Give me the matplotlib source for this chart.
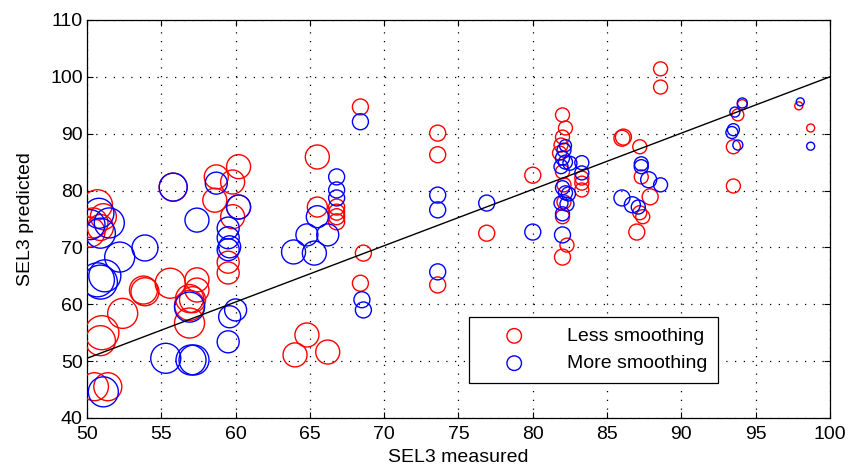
import matplotlib
matplotlib.use("Agg")
import matplotlib.pyplot as plt
import numpy as np

plt.rcParams['font.family'] = ['Liberation Sans', 'DejaVu Sans']

# Less smoothing (red): measured, predicted, marker radius (px)
less_x = [50.7, 51.1, 50.4, 50.2, 50.9, 51.0, 50.9, 52.4, 53.9, 50.5, 51.4,
          55.8, 58.7, 60.2, 58.6, 59.8, 60.2, 59.8, 59.5, 59.5,
          53.8, 55.6, 57.4, 57.4, 57.1, 56.9, 56.9, 56.9,
          68.4, 65.5, 66.8, 66.8, 66.8, 66.8, 65.5, 68.6, 68.4, 64.8, 64.0, 66.2,
          73.6, 73.6, 76.9, 80.0, 73.6,
          82.0, 82.2, 82.0, 81.9, 81.8, 82.0, 83.3, 83.3, 83.3, 82.1, 82.1, 82.0,
          82.3, 82.0, 86.0,
          88.6, 88.6, 87.2, 87.3, 87.9, 87.2, 87.4, 87.0, 86.1,
          94.1, 93.8, 93.5, 93.5, 97.9, 98.7]
less_y = [77.5, 75.4, 74.3, 72.7, 73.5, 55.0, 53.6, 58.4, 62.2, 45.5, 45.5,
          80.6, 82.4, 84.2, 78.3, 81.5, 77.1, 75.4, 67.4, 65.5,
          62.5, 63.7, 64.3, 62.5, 60.8, 59.8, 61.0, 56.7,
          94.7, 85.9, 77.1, 76.2, 75.4, 74.5, 77.1, 69.0, 63.7, 54.6, 51.1, 51.6,
          90.1, 86.3, 72.5, 82.7, 63.4,
          93.3, 91.0, 89.4, 88.0, 86.6, 83.3, 82.2, 81.3, 80.1, 81.0, 78.0, 75.4,
          70.4, 68.3, 89.2,
          101.4, 98.2, 87.7, 82.4, 78.9, 76.1, 75.4, 72.7, 89.4,
          95.1, 93.3, 87.7, 80.8, 94.9, 91.0]
less_r = [15, 13, 15, 15, 13, 17, 15, 15, 14, 14, 14,
          14, 12, 12, 12, 12, 12, 12, 11, 11,
          14, 15, 12, 12, 13, 15, 14, 15,
          8, 12, 8, 8, 8, 8, 10, 8, 8, 12, 12, 12,
          8, 8, 8, 8, 8,
          7, 7, 7, 7, 7, 7, 7, 7, 7, 7, 7, 7,
          7, 8, 8,
          7, 7, 7, 7, 8, 7, 7, 8, 8,
          5, 6, 7, 7, 4, 4]

# More smoothing (blue)
more_x = [50.8, 51.5, 50.2, 50.9, 52.2, 53.9, 50.7, 50.9, 51.2, 51.1,
          55.8, 58.7, 60.2, 57.4, 59.5, 59.5, 59.6, 59.5, 56.9, 60.0, 59.6, 59.5,
          55.3, 57.0, 57.2,
          68.4, 66.8, 66.8, 66.8, 65.5, 64.8, 66.2, 63.9, 65.3, 68.5, 68.6,
          73.6, 73.6, 76.9, 80.0, 73.6,
          82.2, 82.1, 82.0, 82.2, 81.9, 82.5, 83.3, 83.3, 82.0, 82.2, 82.4, 81.9,
          82.3, 82.0, 82.0, 86.0,
          87.3, 87.3, 87.8, 88.6, 86.7, 87.1,
          94.1, 93.6, 93.5, 93.4, 93.8, 98.0, 98.7]
more_y = [76.0, 74.3, 74.0, 72.5, 68.3, 69.9, 64.3, 63.9, 65.0, 44.6,
          80.6, 81.3, 77.1, 74.8, 73.4, 71.7, 70.1, 69.6, 59.5, 59.0, 57.8, 53.4,
          50.5, 50.2, 50.2,
          92.1, 82.4, 80.1, 78.7, 75.4, 72.2, 72.2, 69.2, 69.0, 60.8, 59.0,
          79.2, 76.6, 77.8, 72.7, 65.7,
          87.9, 87.1, 85.7, 85.0, 84.2, 84.8, 84.9, 83.1, 80.5, 79.6, 79.4, 77.8,
          77.6, 75.9, 72.2, 78.7,
          84.7, 84.2, 81.9, 81.0, 77.5, 77.1,
          95.4, 93.8, 90.7, 90.2, 88.0, 95.6, 87.8]
more_r = [15, 15, 15, 15, 15, 13, 17, 17, 16, 15,
          14, 11, 12, 12, 11, 11, 11, 11, 15, 11, 11, 11,
          15, 15, 15,
          8, 8, 8, 8, 11, 11, 11, 12, 12, 8, 8,
          8, 8, 8, 8, 8,
          6, 7, 7, 7, 7, 7, 7, 7, 7, 7, 7, 7,
          7, 7, 8, 8,
          7, 7, 8, 7, 8, 7,
          5, 5, 6, 6, 5, 4, 4]

fit_x = [50, 100]
fit_y = [50.5, 100]


def area(r):
    # radius in px at dpi 100 -> marker area in points^2
    return (np.array(r) * 2 * 0.72) ** 2


fig = plt.figure(figsize=(8.53, 4.75), dpi=100)
ax = fig.add_axes([0.102, 0.12, 0.871, 0.838])

ax.scatter(less_x, less_y, s=area(less_r), facecolors='none', edgecolors='#ff0000',
           linewidths=1.0, label='Less smoothing', zorder=3)
ax.scatter(more_x, more_y, s=area(more_r), facecolors='none', edgecolors='#0000ff',
           linewidths=1.0, label='More smoothing', zorder=3)
ax.plot(fit_x, fit_y, color='black', linewidth=1.0, zorder=4)

ax.set_xlim(50, 100)
ax.set_ylim(40, 110)
ax.set_xticks(np.arange(50, 101, 5))
ax.set_yticks(np.arange(40, 111, 10))
ax.grid(True, color='black', linestyle=(0, (1, 6)), linewidth=0.9)
ax.set_axisbelow(True)
ax.tick_params(direction='in', labelsize=14, length=4, top=True, right=True,
               labeltop=False, labelright=False)
ax.tick_params(axis='x', pad=6)
ax.tick_params(axis='y', pad=3)
for sp in ax.spines.values():
    sp.set_linewidth(0.9)

ax.set_xlabel('SEL3 measured', fontsize=14, labelpad=4)
ax.set_ylabel('SEL3 predicted', fontsize=14, labelpad=12)

leg = ax.legend(loc='lower right', bbox_to_anchor=(0.849, 0.088), fontsize=14,
                frameon=True, fancybox=False, edgecolor='black', framealpha=1,
                handletextpad=0.9, borderpad=0.55, labelspacing=0.5,
                handlelength=3.6, borderaxespad=0)
for h in leg.legend_handles:
    h.set_sizes([110])
leg.get_frame().set_linewidth(0.9)

fig.savefig('out.png', dpi=100)
